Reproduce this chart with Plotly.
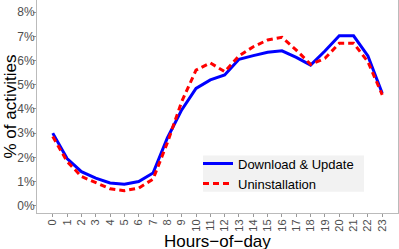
import plotly.graph_objects as go

hours = list(range(24))
hour_labels = [str(h) for h in hours]
download_update = [3.0, 1.95, 1.41, 1.14, 0.94, 0.89, 1.0, 1.35, 2.8, 3.96, 4.85, 5.2,
                   5.4, 6.05, 6.2, 6.34, 6.4, 6.13, 5.81, 6.39, 7.02, 7.02, 6.19, 4.65]
uninstallation = [2.86, 1.83, 1.21, 0.94, 0.70, 0.62, 0.73, 1.1, 2.6, 4.3, 5.6, 5.9,
                  5.54, 6.19, 6.57, 6.85, 6.96, 6.43, 5.84, 6.09, 6.71, 6.71, 5.95, 4.58]
y_ticks = [0, 1, 2, 3, 4, 5, 6, 7, 8]
y_labels = [f"{v}%" for v in y_ticks]

fig = go.Figure()
fig.add_trace(go.Scatter(x=hours, y=download_update, mode="lines", name="Download & Update",
                         line=dict(color="#0000ff", width=3)))
fig.add_trace(go.Scatter(x=hours, y=uninstallation, mode="lines", name="Uninstallation",
                         line=dict(color="#ff0000", width=3, dash="6px,4px")))

# legend background box
fig.add_shape(type="rect", xref="paper", yref="paper", x0=0.46, x1=0.906, y0=0.1, y1=0.27,
              fillcolor="#f2f2f2", line=dict(width=0), layer="below")

fig.add_annotation(text="Hours\u2212of\u2212day", xref="paper", yref="paper", x=0.5, y=0,
                   xanchor="center", yanchor="middle", yshift=-28, showarrow=False,
                   font=dict(size=17, color="#000000"))
fig.add_annotation(text="% of activities", xref="paper", yref="paper", x=0, y=0.5,
                   xanchor="center", yanchor="middle", xshift=-27, textangle=-90, showarrow=False,
                   font=dict(size=17, color="#000000"))

fig.update_layout(
    width=399, height=249,
    margin=dict(l=37, r=1, t=0, b=36),
    paper_bgcolor="white", plot_bgcolor="white",
    font=dict(family="Liberation Sans, Arial, sans-serif", color="#4d4d4d"),
    showlegend=True,
    legend=dict(x=0.446, y=0.302, xanchor="left", yanchor="top",
                bgcolor="rgba(0,0,0,0)", font=dict(size=13, color="#000000"),
                tracegroupgap=0, itemwidth=30),
    xaxis=dict(range=[-1.1, 24.1], tickvals=hours, ticktext=hour_labels, tickangle=-90,
               showgrid=False, zeroline=False, showline=True, linecolor="#bbbbbb", mirror=True,
               ticks="outside", ticklen=3, tickcolor="#999999", automargin=False,
               ticklabelstandoff=-2,
               tickfont=dict(size=11, color="#4d4d4d")),
    yaxis=dict(range=[-0.3, 8.5], tickvals=y_ticks, ticktext=y_labels,
               showgrid=False, zeroline=False, showline=True, linecolor="#bbbbbb", mirror=True,
               ticks="outside", ticklen=3, tickcolor="#999999", automargin=False,
               ticklabelstandoff=-4,
               tickfont=dict(size=12, color="#4d4d4d")),
)

fig.write_html("out.html", config={"displayModeBar": False},
               post_script="document.body.style.margin='0';document.body.style.overflow='hidden';")
